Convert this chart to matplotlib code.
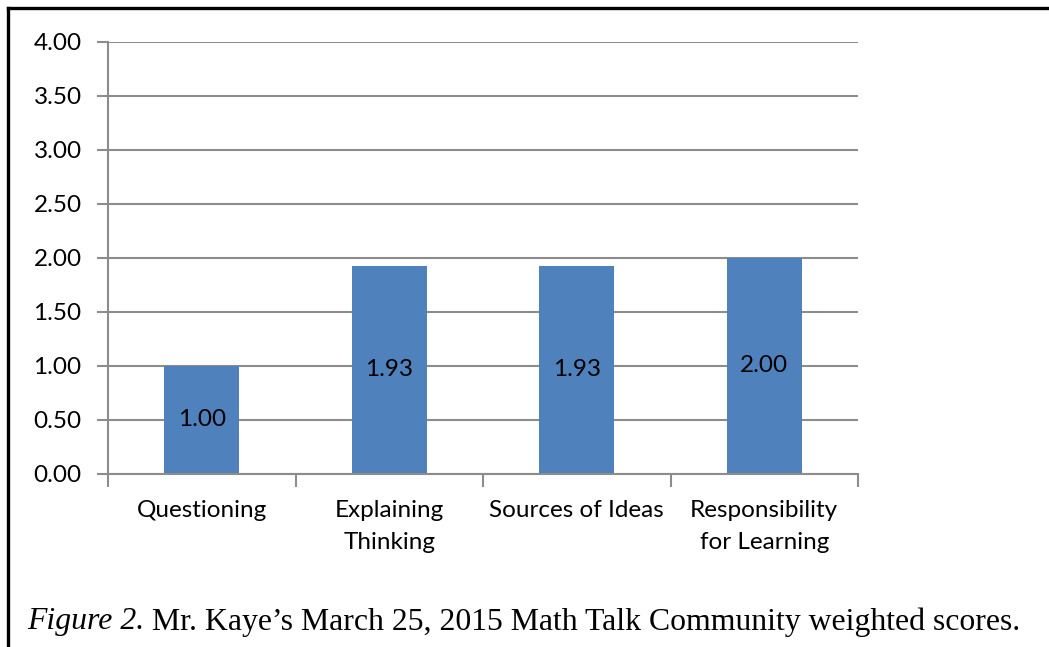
"""Bar chart of weighted Math Talk Community scores with a boxed figure caption."""

import matplotlib.pyplot as plt
from matplotlib.lines import Line2D
from matplotlib.ticker import FixedLocator

categories = ["Questioning", "Explaining\nThinking", "Sources of Ideas", "Responsibility\nfor Learning"]
scores = [1.00, 1.93, 1.93, 2.00]
y_ticks = [0.0, 0.5, 1.0, 1.5, 2.0, 2.5, 3.0, 3.5, 4.0]
caption_lead = "Figure 2."
caption_rest = " Mr. Kaye’s March 25, 2015 Math Talk Community weighted scores."

W, H = 1049, 647
BAR_COLOR = "#4F81BD"
GRID_COLOR = "#8C8C8C"
FS = 17.5
plt.rcParams["font.family"] = ["Lato", "DejaVu Sans"]

fig = plt.figure(figsize=(W / 100, H / 100), dpi=100)
ax = fig.add_axes([108 / W, (H - 474) / H, (858 - 108) / W, (474 - 42) / H])

x = list(range(len(categories)))
bars = ax.bar(x, scores, width=0.4, color=BAR_COLOR, zorder=2)
for rect, val in zip(bars, scores):
    ax.text(rect.get_x() + rect.get_width() / 2, val / 2, f"{val:.2f}",
            ha="center", va="center", fontsize=FS, color="black", zorder=3)

ax.set_xlim(-0.5, len(categories) - 0.5)
ax.set_ylim(0, 4)
ax.set_yticks(y_ticks)
ax.set_yticklabels([f"{v:.2f}" for v in y_ticks])
ax.yaxis.grid(True, color=GRID_COLOR, linewidth=1.5, zorder=0)
ax.set_axisbelow(True)

ax.set_xticks(x)
ax.set_xticklabels(categories, linespacing=1.65)
ax.xaxis.set_minor_locator(FixedLocator([i - 0.5 for i in range(len(categories) + 1)]))
ax.tick_params(axis="x", which="major", length=0, pad=19, labelsize=FS)
ax.tick_params(axis="x", which="minor", length=9, width=1.5, color=GRID_COLOR)
ax.tick_params(axis="y", length=8, width=1.5, color=GRID_COLOR, pad=11, labelsize=FS)

for side in ("top", "right"):
    ax.spines[side].set_visible(False)
for side in ("left", "bottom"):
    ax.spines[side].set_color(GRID_COLOR)
    ax.spines[side].set_linewidth(1.5)

# box edges around the figure (top and left)
fig.add_artist(Line2D([8 / W, 1.0], [1 - 8 / H, 1 - 8 / H], color="black", linewidth=2.4))
fig.add_artist(Line2D([8 / W, 8 / W], [0.0, 1 - 8 / H], color="black", linewidth=2.4))

# caption: italic lead followed by upright text, sized to span the box width
renderer = fig.canvas.get_renderer()
cap_fs = 24
cap_y = 1 - 622 / H
lead = fig.text(27 / W, cap_y, caption_lead, fontsize=cap_fs, style="italic",
                va="center", ha="left", family=["Liberation Serif"])
rest = fig.text(0, cap_y, caption_rest, fontsize=cap_fs,
                va="center", ha="left", family=["Liberation Serif"])
total = (lead.get_window_extent(renderer).width + rest.get_window_extent(renderer).width)
cap_fs = cap_fs * (1023 - 27) / total
lead.set_fontsize(cap_fs)
rest.set_fontsize(cap_fs)
lead_w = lead.get_window_extent(renderer).width
rest.set_x((27 + lead_w) / W)

fig.savefig("out.png", dpi=100)
